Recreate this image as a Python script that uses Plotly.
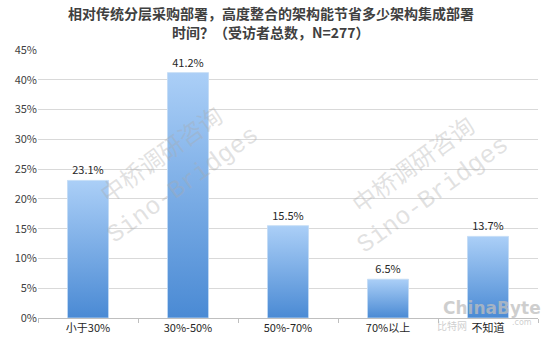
import plotly.graph_objects as go

categories = ["小于30%", "30%-50%", "50%-70%", "70%以上", "不知道"]
values = [23.1, 41.2, 15.5, 6.5, 13.7]
labels = ["23.1%", "41.2%", "15.5%", "6.5%", "13.7%"]
y_ticks = [0, 5, 10, 15, 20, 25, 30, 35, 40, 45]
y_ticktext = [f"{v}%" for v in y_ticks]
title_lines = ["相对传统分层采购部署，高度整合的架构能节省多少架构集成部署",
               "时间？（受访者总数，N=277）"]

W, H = 542, 350
ML, MR, MT, MB = 38, 4, 50, 32
BAR_W = 0.41
xs = list(range(len(categories)))

fig = go.Figure()

# invisible bars carry the value labels
fig.add_trace(go.Bar(
    x=xs, y=values, width=BAR_W,
    marker=dict(color="rgba(0,0,0,0)"),
    text=labels, textposition="outside",
    textfont=dict(family="Noto Sans CJK SC", size=11, color="#262626"),
    cliponaxis=False, hoverinfo="skip", showlegend=False,
))

# gradient-filled bars
for x, v in zip(xs, values):
    fig.add_trace(go.Scatter(
        x=[x - BAR_W / 2, x + BAR_W / 2, x + BAR_W / 2, x - BAR_W / 2, x - BAR_W / 2],
        y=[0, 0, v, v, 0],
        mode="lines", fill="toself",
        line=dict(color="#c4dcf5", width=0.8),
        fillgradient=dict(type="vertical",
                          colorscale=[[0, "#4a8ad4"], [1, "#abcff7"]]),
        hoverinfo="skip", showlegend=False,
    ))


def pa(px, py):
    return (px - ML) / (W - ML - MR), (H - MB - py) / (H - MT - MB)


annotations = []
# title, two lines
for t, py in zip(title_lines, [13, 32]):
    x0, y0 = pa(271, py)
    annotations.append(dict(
        text=f"<b>{t}</b>", x=x0, y=y0, xref="paper", yref="paper",
        xanchor="center", yanchor="middle", showarrow=False,
        font=dict(family="Noto Sans CJK SC", size=14, color="#404040"),
    ))

wm_color = "rgba(170,170,170,0.35)"
wm = [
    ("中桥调研咨询", 160, 153, 24, "Noto Sans CJK SC"),
    ("Sino-Bridges", 183, 185, 25, "Liberation Mono"),
    ("中桥调研咨询", 412, 163, 24, "Noto Sans CJK SC"),
    ("Sino-Bridges", 433, 195, 25, "Liberation Mono"),
]
for t, px, py, fs, fam in wm:
    x0, y0 = pa(px, py)
    annotations.append(dict(
        text=t, x=x0, y=y0, xref="paper", yref="paper",
        xanchor="center", yanchor="middle",
        showarrow=False, textangle=-36,
        font=dict(family=fam, size=fs, color=wm_color),
    ))

logo = [
    ("<b>ChinaByte</b>", 492, 308, 17, "DejaVu Sans"),
    ("比特网", 452, 325, 10, "Noto Sans CJK SC"),
    (".com", 522, 322, 8, "DejaVu Sans"),
]
for t, px, py, fs, fam in logo:
    x0, y0 = pa(px, py)
    annotations.append(dict(
        text=t, x=x0, y=y0, xref="paper", yref="paper",
        xanchor="center", yanchor="middle", showarrow=False,
        font=dict(family=fam, size=fs, color="rgba(190,190,190,0.75)"),
    ))

fig.update_layout(
    width=W, height=H,
    margin=dict(l=ML, r=MR, t=MT, b=MB),
    paper_bgcolor="white", plot_bgcolor="white",
    annotations=annotations,
    showlegend=False,
)
fig.update_xaxes(
    range=[-0.5, 4.5], tickvals=xs, ticktext=categories, ticks="",
    tickfont=dict(family="Noto Sans CJK SC", size=11, color="#262626"),
    showline=True, linecolor="#bfbfbf", linewidth=1, showgrid=False, zeroline=False,
    minor=dict(tickmode="array", tickvals=[-0.5, 0.5, 1.5, 2.5, 3.5, 4.5],
               ticks="outside", ticklen=4, tickcolor="#bfbfbf", showgrid=False),
)
fig.update_yaxes(
    range=[0, 45], tickvals=y_ticks, ticktext=y_ticktext,
    tickfont=dict(family="Noto Sans CJK SC", size=11, color="#404040"),
    showgrid=True, gridcolor="#d9d9d9", gridwidth=1, zeroline=False,
    showline=False, ticks="",
)

fig.write_html("out.html")
